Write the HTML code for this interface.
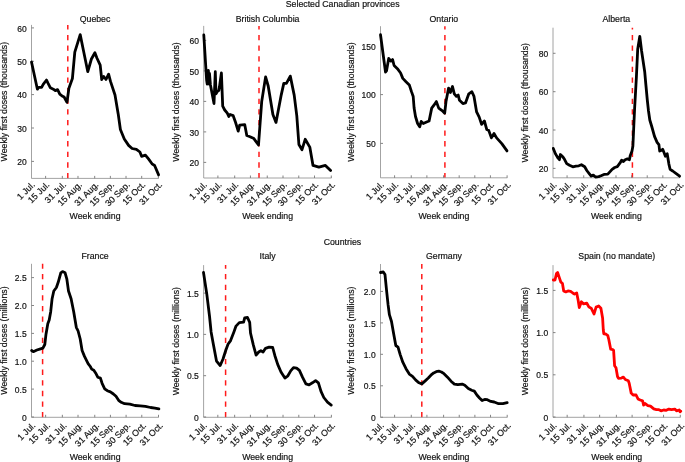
<!DOCTYPE html><html><head><meta charset="utf-8"><style>html,body{margin:0;padding:0;background:#fff;overflow:hidden;}svg{display:block;will-change:transform;}text{font-family:"Liberation Sans",sans-serif;fill:#111;stroke:#111;stroke-width:0.18px;}</style></head><body>
<svg width="685" height="462" viewBox="0 0 685 462">
<rect width="685" height="462" fill="#fff"/>
<text x="342.7" y="6.6" font-size="8.75" text-anchor="middle">Selected Canadian provinces</text>
<text x="342.4" y="244.7" font-size="8.75" text-anchor="middle">Countries</text>
<text x="95.05" y="22" font-size="8.75" text-anchor="middle">Quebec</text>
<line x1="67.8" y1="24.9" x2="67.8" y2="178.4" stroke="#ff1a1a" stroke-width="1.5" stroke-dasharray="5.3 5.32" stroke-dashoffset="0.6"/>
<path d="M31.5 24.9V178.4H158.6" fill="none" stroke="#8c8c8c" stroke-width="0.8"/>
<path d="M45.62 178.4v-2.5M62.33 178.4v-2.5M77.99 178.4v-2.5M94.7 178.4v-2.5M110.36 178.4v-2.5M126.03 178.4v-2.5M141.69 178.4v-2.5M158.4 178.4v-2.5M31.5 27.9h2.5M31.5 61.3h2.5M31.5 94.6h2.5M31.5 128h2.5M31.5 161.4h2.5" fill="none" stroke="#777" stroke-width="0.9"/>
<text x="26.7" y="31.5" font-size="8.5" text-anchor="end">60</text>
<text x="26.7" y="64.9" font-size="8.5" text-anchor="end">50</text>
<text x="26.7" y="98.2" font-size="8.5" text-anchor="end">40</text>
<text x="26.7" y="131.6" font-size="8.5" text-anchor="end">30</text>
<text x="26.7" y="165" font-size="8.5" text-anchor="end">20</text>
<text x="35.4" y="185.3" font-size="8.85" text-anchor="end" transform="rotate(-45 35.4 185.3)">1 Jul.</text>
<text x="50.02" y="185.3" font-size="8.85" text-anchor="end" transform="rotate(-45 50.02 185.3)">15 Jul.</text>
<text x="66.73" y="185.3" font-size="8.85" text-anchor="end" transform="rotate(-45 66.73 185.3)">31 Jul.</text>
<text x="82.39" y="185.3" font-size="8.85" text-anchor="end" transform="rotate(-45 82.39 185.3)">15 Aug.</text>
<text x="99.1" y="185.3" font-size="8.85" text-anchor="end" transform="rotate(-45 99.1 185.3)">31 Aug.</text>
<text x="114.76" y="185.3" font-size="8.85" text-anchor="end" transform="rotate(-45 114.76 185.3)">15 Sep.</text>
<text x="130.43" y="185.3" font-size="8.85" text-anchor="end" transform="rotate(-45 130.43 185.3)">30 Sep.</text>
<text x="146.09" y="185.3" font-size="8.85" text-anchor="end" transform="rotate(-45 146.09 185.3)">15 Oct.</text>
<text x="162.8" y="185.3" font-size="8.85" text-anchor="end" transform="rotate(-45 162.8 185.3)">31 Oct.</text>
<text x="95.05" y="219" font-size="8.75" text-anchor="middle">Week ending</text>
<text x="6.8" y="101.65" font-size="8.75" text-anchor="middle" transform="rotate(-90 6.8 101.65)">Weekly first doses (thousands)</text>
<path d="M31.5 62 L37.4 89.2 L38.7 87.3 L41.6 87.3 L43.2 84.3 L46.5 80 L48.1 83.4 L50.4 87.8 L53.3 89.2 L55.3 90.6 L57.6 89.6 L59.8 94.1 L62.1 96 L64.1 97 L67 102.3 L68.9 88.2 L72.4 78.5 L74.8 52.2 L80.2 34.6 L83.6 51.2 L87.8 71.7 L91.4 59 L94.9 52.7 L96.9 58 L100.2 65.2 L101.7 79.5 L103.7 76.5 L106 79.5 L108.6 74.2 L110.5 81.4 L115 95 L118.2 113.9 L120.4 129.5 L124.3 139 L128.6 145.4 L132.1 148.5 L136.4 149.4 L139.9 152 L141.6 156.3 L145.4 155.1 L148.5 158.9 L152 163.8 L154.6 165.5 L158.6 174.9" fill="none" stroke="#000" stroke-width="2.8" stroke-linejoin="round" stroke-linecap="round"/>
<text x="267.6" y="22" font-size="8.75" text-anchor="middle">British Columbia</text>
<line x1="259" y1="25.9" x2="259" y2="178" stroke="#ff1a1a" stroke-width="1.5" stroke-dasharray="5.3 5.32" stroke-dashoffset="1.6"/>
<path d="M203.7 25.9V178H331.5" fill="none" stroke="#8c8c8c" stroke-width="0.8"/>
<path d="M217.9 178v-2.5M234.7 178v-2.5M250.45 178v-2.5M267.25 178v-2.5M283 178v-2.5M298.75 178v-2.5M314.5 178v-2.5M331.3 178v-2.5M203.7 40.4h2.5M203.7 70.9h2.5M203.7 101.4h2.5M203.7 131.9h2.5M203.7 162.4h2.5" fill="none" stroke="#777" stroke-width="0.9"/>
<text x="198.9" y="44" font-size="8.5" text-anchor="end">60</text>
<text x="198.9" y="74.5" font-size="8.5" text-anchor="end">50</text>
<text x="198.9" y="105" font-size="8.5" text-anchor="end">40</text>
<text x="198.9" y="135.5" font-size="8.5" text-anchor="end">30</text>
<text x="198.9" y="166" font-size="8.5" text-anchor="end">20</text>
<text x="207.6" y="185.3" font-size="8.85" text-anchor="end" transform="rotate(-45 207.6 185.3)">1 Jul.</text>
<text x="222.3" y="185.3" font-size="8.85" text-anchor="end" transform="rotate(-45 222.3 185.3)">15 Jul.</text>
<text x="239.1" y="185.3" font-size="8.85" text-anchor="end" transform="rotate(-45 239.1 185.3)">31 Jul.</text>
<text x="254.85" y="185.3" font-size="8.85" text-anchor="end" transform="rotate(-45 254.85 185.3)">15 Aug.</text>
<text x="271.65" y="185.3" font-size="8.85" text-anchor="end" transform="rotate(-45 271.65 185.3)">31 Aug.</text>
<text x="287.4" y="185.3" font-size="8.85" text-anchor="end" transform="rotate(-45 287.4 185.3)">15 Sep.</text>
<text x="303.15" y="185.3" font-size="8.85" text-anchor="end" transform="rotate(-45 303.15 185.3)">30 Sep.</text>
<text x="318.9" y="185.3" font-size="8.85" text-anchor="end" transform="rotate(-45 318.9 185.3)">15 Oct.</text>
<text x="335.7" y="185.3" font-size="8.85" text-anchor="end" transform="rotate(-45 335.7 185.3)">31 Oct.</text>
<text x="267.6" y="219" font-size="8.75" text-anchor="middle">Week ending</text>
<text x="179.1" y="101.95" font-size="8.75" text-anchor="middle" transform="rotate(-90 179.1 101.95)">Weekly first doses (thousands)</text>
<path d="M203.8 35 L206.6 80 L207.2 84 L208.4 70.5 L209 84 L209.5 73.5 L210.4 84.7 L214 103.5 L215.3 71.7 L216 93.8 L217.5 91.2 L218.8 90.5 L219.5 86.6 L221.4 73 L222.7 106.1 L224.7 110 L227.3 113.2 L228.8 116.5 L230.1 114.5 L233.1 115.6 L235.6 122.5 L238.2 131.1 L239.7 125.1 L244.7 124.6 L246.8 135.5 L250 136.7 L253.9 138.6 L258.5 145 L261.7 101.6 L265.6 76.9 L268.2 86 L272.9 114.6 L276 122.4 L281.2 95.1 L283.8 83.4 L286.4 83.4 L290.3 76.1 L294.2 95.1 L296.8 115.9 L298.9 144.5 L302 149.7 L305.2 139.3 L309.8 147.1 L313 165.4 L318.9 167.2 L325.4 165.4 L328 168 L330.6 170.6" fill="none" stroke="#000" stroke-width="2.8" stroke-linejoin="round" stroke-linecap="round"/>
<text x="443.9" y="22" font-size="8.75" text-anchor="middle">Ontario</text>
<line x1="444.9" y1="26.2" x2="444.9" y2="177.8" stroke="#ff1a1a" stroke-width="1.5" stroke-dasharray="5.3 5.32" stroke-dashoffset="1.9"/>
<path d="M380.5 26.2V177.8H507.3" fill="none" stroke="#8c8c8c" stroke-width="0.8"/>
<path d="M394.59 177.8v-2.5M411.25 177.8v-2.5M426.88 177.8v-2.5M443.55 177.8v-2.5M459.18 177.8v-2.5M474.8 177.8v-2.5M490.43 177.8v-2.5M507.1 177.8v-2.5M380.5 45.9h2.5M380.5 94.6h2.5M380.5 143.4h2.5" fill="none" stroke="#777" stroke-width="0.9"/>
<text x="375.7" y="49.5" font-size="8.5" text-anchor="end">150</text>
<text x="375.7" y="98.2" font-size="8.5" text-anchor="end">100</text>
<text x="375.7" y="147" font-size="8.5" text-anchor="end">50</text>
<text x="384.4" y="185.3" font-size="8.85" text-anchor="end" transform="rotate(-45 384.4 185.3)">1 Jul.</text>
<text x="398.99" y="185.3" font-size="8.85" text-anchor="end" transform="rotate(-45 398.99 185.3)">15 Jul.</text>
<text x="415.65" y="185.3" font-size="8.85" text-anchor="end" transform="rotate(-45 415.65 185.3)">31 Jul.</text>
<text x="431.28" y="185.3" font-size="8.85" text-anchor="end" transform="rotate(-45 431.28 185.3)">15 Aug.</text>
<text x="447.95" y="185.3" font-size="8.85" text-anchor="end" transform="rotate(-45 447.95 185.3)">31 Aug.</text>
<text x="463.58" y="185.3" font-size="8.85" text-anchor="end" transform="rotate(-45 463.58 185.3)">15 Sep.</text>
<text x="479.2" y="185.3" font-size="8.85" text-anchor="end" transform="rotate(-45 479.2 185.3)">30 Sep.</text>
<text x="494.83" y="185.3" font-size="8.85" text-anchor="end" transform="rotate(-45 494.83 185.3)">15 Oct.</text>
<text x="511.5" y="185.3" font-size="8.85" text-anchor="end" transform="rotate(-45 511.5 185.3)">31 Oct.</text>
<text x="443.9" y="219" font-size="8.75" text-anchor="middle">Week ending</text>
<text x="353.9" y="102" font-size="8.75" text-anchor="middle" transform="rotate(-90 353.9 102)">Weekly first doses (thousands)</text>
<path d="M380.5 34.7 L385.5 72 L386.5 70.9 L388.7 58.5 L390.9 61.1 L392.6 59.6 L394.1 65.5 L397.4 68.7 L400.6 73 L402.8 78.4 L406 81.7 L409.3 84.9 L411.4 91.4 L413.2 96.5 L414.1 108 L415.5 116.5 L417.6 123.5 L419.7 126.8 L421.2 121.4 L423.3 123.5 L426.6 122 L429.1 121 L431.7 108.1 L434.3 104.7 L436.4 101.6 L438.7 108.1 L442.1 110.6 L444.7 113.2 L446 101.6 L448.6 88.1 L450.4 92.5 L452.5 86.5 L454.3 93.8 L456.4 96.4 L458.2 95.1 L459.5 100.3 L462.9 103.6 L465.5 102.9 L468.8 93.8 L471.9 91.7 L474 96.4 L476.6 111.9 L479.2 117.1 L481.6 124.4 L484.4 121 L486.8 129.6 L488.8 130.6 L491.4 137.9 L494 133.5 L496.6 137.9 L501.8 143.6 L507 150.9" fill="none" stroke="#000" stroke-width="2.8" stroke-linejoin="round" stroke-linecap="round"/>
<text x="616.35" y="22" font-size="8.75" text-anchor="middle">Alberta</text>
<line x1="632.4" y1="27.7" x2="632.4" y2="177.8" stroke="#ff1a1a" stroke-width="1.5" stroke-dasharray="5.3 5.32" stroke-dashoffset="3.4"/>
<path d="M553 27.7V177.8H679.7" fill="none" stroke="#8c8c8c" stroke-width="0.8"/>
<path d="M567.07 177.8v-2.5M583.73 177.8v-2.5M599.34 177.8v-2.5M616 177.8v-2.5M631.61 177.8v-2.5M647.23 177.8v-2.5M662.84 177.8v-2.5M679.5 177.8v-2.5M553 53.3h2.5M553 91.7h2.5M553 130h2.5M553 168.4h2.5" fill="none" stroke="#777" stroke-width="0.9"/>
<text x="548.2" y="56.9" font-size="8.5" text-anchor="end">80</text>
<text x="548.2" y="95.3" font-size="8.5" text-anchor="end">60</text>
<text x="548.2" y="133.6" font-size="8.5" text-anchor="end">40</text>
<text x="548.2" y="172" font-size="8.5" text-anchor="end">20</text>
<text x="557.3" y="185.3" font-size="8.85" text-anchor="end" transform="rotate(-45 557.3 185.3)">1 Jul.</text>
<text x="571.87" y="185.3" font-size="8.85" text-anchor="end" transform="rotate(-45 571.87 185.3)">15 Jul.</text>
<text x="588.53" y="185.3" font-size="8.85" text-anchor="end" transform="rotate(-45 588.53 185.3)">31 Jul.</text>
<text x="604.14" y="185.3" font-size="8.85" text-anchor="end" transform="rotate(-45 604.14 185.3)">15 Aug.</text>
<text x="620.8" y="185.3" font-size="8.85" text-anchor="end" transform="rotate(-45 620.8 185.3)">31 Aug.</text>
<text x="636.41" y="185.3" font-size="8.85" text-anchor="end" transform="rotate(-45 636.41 185.3)">15 Sep.</text>
<text x="652.03" y="185.3" font-size="8.85" text-anchor="end" transform="rotate(-45 652.03 185.3)">30 Sep.</text>
<text x="667.64" y="185.3" font-size="8.85" text-anchor="end" transform="rotate(-45 667.64 185.3)">15 Oct.</text>
<text x="684.3" y="185.3" font-size="8.85" text-anchor="end" transform="rotate(-45 684.3 185.3)">31 Oct.</text>
<text x="616.35" y="219" font-size="8.75" text-anchor="middle">Week ending</text>
<text x="528" y="102.75" font-size="8.75" text-anchor="middle" transform="rotate(-90 528 102.75)">Weekly first doses (thousands)</text>
<path d="M553.3 148.4 L555.5 153.9 L558.1 158.2 L559.4 159.7 L560.4 154.5 L563 157.1 L564.5 159.3 L566.7 163.6 L569.5 165.3 L572.8 166.8 L576 166.2 L578.8 165.8 L581.4 164.7 L584.7 166.8 L586.8 170.5 L589 173.3 L591.2 176.1 L593.3 175.1 L595.5 177 L598.7 176.6 L601 175.8 L604 174.4 L607.8 174.2 L612.1 169.3 L614.7 167.5 L617.3 166.7 L619.9 163.2 L621.6 160.2 L623.4 161.5 L625.1 159.7 L627.4 158.9 L629.4 159.7 L630.3 155.4 L632 151.1 L632.9 145.9 L633.8 126 L634.6 108.7 L636.4 77 L637.7 49.2 L639.8 36.3 L641.6 51 L644.7 71.7 L645.9 85 L647.3 100 L648.5 111 L649.8 120 L651.9 127 L654.5 136.4 L657.1 142.4 L658.9 144.7 L659.7 151.1 L661.5 150.2 L662.7 149.3 L664.1 152.8 L665.4 156.3 L667.2 153.7 L668.9 164.1 L670.1 169.3 L672.7 171 L676.2 173.6 L679.6 176.2" fill="none" stroke="#000" stroke-width="2.8" stroke-linejoin="round" stroke-linecap="round"/>
<text x="95.1" y="259.4" font-size="8.75" text-anchor="middle">France</text>
<line x1="42.6" y1="263.8" x2="42.6" y2="417.3" stroke="#ff1a1a" stroke-width="1.5" stroke-dasharray="5.3 5.32" stroke-dashoffset="0.4"/>
<path d="M31.5 263.8V417.3H158.7" fill="none" stroke="#8c8c8c" stroke-width="0.8"/>
<path d="M45.63 417.3v-2.5M62.35 417.3v-2.5M78.03 417.3v-2.5M94.75 417.3v-2.5M110.43 417.3v-2.5M126.1 417.3v-2.5M141.78 417.3v-2.5M158.5 417.3v-2.5M31.5 417h2.5M31.5 389.1h2.5M31.5 361.2h2.5M31.5 333.4h2.5M31.5 305.5h2.5M31.5 277.6h2.5" fill="none" stroke="#777" stroke-width="0.9"/>
<text x="26.7" y="420.6" font-size="8.5" text-anchor="end">0</text>
<text x="26.7" y="392.7" font-size="8.5" text-anchor="end">0.5</text>
<text x="26.7" y="364.8" font-size="8.5" text-anchor="end">1.0</text>
<text x="26.7" y="337" font-size="8.5" text-anchor="end">1.5</text>
<text x="26.7" y="309.1" font-size="8.5" text-anchor="end">2.0</text>
<text x="26.7" y="281.2" font-size="8.5" text-anchor="end">2.5</text>
<text x="36" y="426" font-size="8.85" text-anchor="end" transform="rotate(-45 36 426)">1 Jul.</text>
<text x="50.63" y="426" font-size="8.85" text-anchor="end" transform="rotate(-45 50.63 426)">15 Jul.</text>
<text x="67.35" y="426" font-size="8.85" text-anchor="end" transform="rotate(-45 67.35 426)">31 Jul.</text>
<text x="83.03" y="426" font-size="8.85" text-anchor="end" transform="rotate(-45 83.03 426)">15 Aug.</text>
<text x="99.75" y="426" font-size="8.85" text-anchor="end" transform="rotate(-45 99.75 426)">31 Aug.</text>
<text x="115.43" y="426" font-size="8.85" text-anchor="end" transform="rotate(-45 115.43 426)">15 Sep.</text>
<text x="131.1" y="426" font-size="8.85" text-anchor="end" transform="rotate(-45 131.1 426)">30 Sep.</text>
<text x="146.78" y="426" font-size="8.85" text-anchor="end" transform="rotate(-45 146.78 426)">15 Oct.</text>
<text x="163.5" y="426" font-size="8.85" text-anchor="end" transform="rotate(-45 163.5 426)">31 Oct.</text>
<text x="95.1" y="460" font-size="8.75" text-anchor="middle">Week ending</text>
<text x="7.1" y="340.55" font-size="8.75" text-anchor="middle" transform="rotate(-90 7.1 340.55)">Weekly first doses (millions)</text>
<path d="M31.6 350.5 L33.3 351.7 L36.9 350 L40.5 348.8 L42.9 348.1 L44.8 344.5 L46 334.2 L47.8 323.8 L49.2 320 L50.7 311.7 L52.1 298.7 L53.8 291 L56.4 287.5 L58.2 282.3 L60.8 272.8 L62.5 271.6 L65.1 272.8 L66.8 278.8 L68.5 291 L71.1 298.7 L73.7 311.7 L76.3 327.3 L78.1 331 L80.2 339 L82.1 350.5 L84.5 356.4 L88.1 363.6 L90.3 366.5 L91.7 369.1 L93.8 370.3 L96.1 373.8 L97.8 377.2 L100.4 378.1 L102.1 383.3 L104.7 388.8 L107.3 390.7 L110.4 391.9 L113.4 394 L116 396.3 L118.6 400.3 L121.2 402.3 L124.6 403.7 L129.8 404.1 L135 405.5 L140.2 405.8 L145.4 406.3 L150.6 407.5 L154.9 408.1 L158.9 408.9" fill="none" stroke="#000" stroke-width="2.8" stroke-linejoin="round" stroke-linecap="round"/>
<text x="267.6" y="259.4" font-size="8.75" text-anchor="middle">Italy</text>
<line x1="225.6" y1="265.1" x2="225.6" y2="417.3" stroke="#ff1a1a" stroke-width="1.5" stroke-dasharray="5.3 5.32" stroke-dashoffset="1.7"/>
<path d="M203.6 265.1V417.3H331.6" fill="none" stroke="#8c8c8c" stroke-width="0.8"/>
<path d="M217.82 417.3v-2.5M234.65 417.3v-2.5M250.42 417.3v-2.5M267.25 417.3v-2.5M283.02 417.3v-2.5M298.8 417.3v-2.5M314.57 417.3v-2.5M331.4 417.3v-2.5M203.6 417h2.5M203.6 375.7h2.5M203.6 334.4h2.5M203.6 293.1h2.5" fill="none" stroke="#777" stroke-width="0.9"/>
<text x="198.8" y="420.6" font-size="8.5" text-anchor="end">0</text>
<text x="198.8" y="379.3" font-size="8.5" text-anchor="end">0.5</text>
<text x="198.8" y="338" font-size="8.5" text-anchor="end">1.0</text>
<text x="198.8" y="296.7" font-size="8.5" text-anchor="end">1.5</text>
<text x="207.5" y="426" font-size="8.85" text-anchor="end" transform="rotate(-45 207.5 426)">1 Jul.</text>
<text x="222.22" y="426" font-size="8.85" text-anchor="end" transform="rotate(-45 222.22 426)">15 Jul.</text>
<text x="239.05" y="426" font-size="8.85" text-anchor="end" transform="rotate(-45 239.05 426)">31 Jul.</text>
<text x="254.82" y="426" font-size="8.85" text-anchor="end" transform="rotate(-45 254.82 426)">15 Aug.</text>
<text x="271.65" y="426" font-size="8.85" text-anchor="end" transform="rotate(-45 271.65 426)">31 Aug.</text>
<text x="287.42" y="426" font-size="8.85" text-anchor="end" transform="rotate(-45 287.42 426)">15 Sep.</text>
<text x="303.2" y="426" font-size="8.85" text-anchor="end" transform="rotate(-45 303.2 426)">30 Sep.</text>
<text x="318.97" y="426" font-size="8.85" text-anchor="end" transform="rotate(-45 318.97 426)">15 Oct.</text>
<text x="335.8" y="426" font-size="8.85" text-anchor="end" transform="rotate(-45 335.8 426)">31 Oct.</text>
<text x="267.6" y="460" font-size="8.75" text-anchor="middle">Week ending</text>
<text x="179.1" y="341.2" font-size="8.75" text-anchor="middle" transform="rotate(-90 179.1 341.2)">Weekly first doses (millions)</text>
<path d="M203.5 272.5 L206.8 294.1 L209.5 316 L211.1 331.9 L213.3 344 L216.5 361.1 L220.2 365.5 L223 359 L225.8 350.3 L228 344.2 L230.6 340.6 L233.9 331.9 L236 326.1 L239.3 322.6 L243.6 322.2 L244.7 317.9 L247.5 317.5 L249.7 322.3 L250.5 333 L253.3 344.9 L256.1 355.1 L258.7 352 L260.9 350.7 L263.1 352 L265.5 348.3 L269.1 347.1 L272.7 347.5 L274.9 355.7 L277.7 364.4 L281 372 L284.9 378 L287.9 375.8 L290.7 370.9 L293.5 367.6 L296.6 368.1 L299.4 370.4 L302.6 377.4 L305.9 383.9 L309.1 384.9 L312.4 382.8 L315.6 380.6 L318.4 382.8 L321 391.4 L323.8 397.5 L327.5 402.2 L331.2 405.1" fill="none" stroke="#000" stroke-width="2.8" stroke-linejoin="round" stroke-linecap="round"/>
<text x="443.95" y="259.4" font-size="8.75" text-anchor="middle">Germany</text>
<line x1="421.8" y1="264" x2="421.8" y2="417.3" stroke="#ff1a1a" stroke-width="1.5" stroke-dasharray="5.3 5.32" stroke-dashoffset="0.6"/>
<path d="M380.5 264V417.3H507.4" fill="none" stroke="#8c8c8c" stroke-width="0.8"/>
<path d="M394.6 417.3v-2.5M411.28 417.3v-2.5M426.92 417.3v-2.5M443.6 417.3v-2.5M459.24 417.3v-2.5M474.88 417.3v-2.5M490.52 417.3v-2.5M507.2 417.3v-2.5M380.5 417.2h2.5M380.5 385.8h2.5M380.5 354.3h2.5M380.5 322.9h2.5M380.5 291.4h2.5" fill="none" stroke="#777" stroke-width="0.9"/>
<text x="375.7" y="420.8" font-size="8.5" text-anchor="end">0</text>
<text x="375.7" y="389.4" font-size="8.5" text-anchor="end">0.5</text>
<text x="375.7" y="357.9" font-size="8.5" text-anchor="end">1.0</text>
<text x="375.7" y="326.5" font-size="8.5" text-anchor="end">1.5</text>
<text x="375.7" y="295" font-size="8.5" text-anchor="end">2.0</text>
<text x="384.4" y="426" font-size="8.85" text-anchor="end" transform="rotate(-45 384.4 426)">1 Jul.</text>
<text x="399" y="426" font-size="8.85" text-anchor="end" transform="rotate(-45 399 426)">15 Jul.</text>
<text x="415.68" y="426" font-size="8.85" text-anchor="end" transform="rotate(-45 415.68 426)">31 Jul.</text>
<text x="431.32" y="426" font-size="8.85" text-anchor="end" transform="rotate(-45 431.32 426)">15 Aug.</text>
<text x="448" y="426" font-size="8.85" text-anchor="end" transform="rotate(-45 448 426)">31 Aug.</text>
<text x="463.64" y="426" font-size="8.85" text-anchor="end" transform="rotate(-45 463.64 426)">15 Sep.</text>
<text x="479.28" y="426" font-size="8.85" text-anchor="end" transform="rotate(-45 479.28 426)">30 Sep.</text>
<text x="494.92" y="426" font-size="8.85" text-anchor="end" transform="rotate(-45 494.92 426)">15 Oct.</text>
<text x="511.6" y="426" font-size="8.85" text-anchor="end" transform="rotate(-45 511.6 426)">31 Oct.</text>
<text x="443.95" y="460" font-size="8.75" text-anchor="middle">Week ending</text>
<text x="354.4" y="340.65" font-size="8.75" text-anchor="middle" transform="rotate(-90 354.4 340.65)">Weekly first doses (millions)</text>
<path d="M380.5 272.5 L383.3 272 L385 274.6 L386.5 289.8 L388.1 304.9 L389.4 314.7 L391.5 321.5 L393.7 334 L395.8 345.5 L398 347.1 L400.2 354.6 L402.8 362.2 L406 368.7 L409.3 374.1 L412.5 376.3 L415.8 380.2 L419 382.8 L421.8 383.9 L425.5 380.6 L428.3 378 L430.9 375.2 L433.7 372.9 L436.2 371.7 L438.8 371.2 L441.4 372 L444 373.7 L447.5 377.2 L451 381.2 L454.4 384.1 L457.9 384.7 L462.2 384.1 L464.8 385.3 L468.3 388.5 L471.7 390.2 L474.3 391.1 L476.9 395 L479.5 398 L482.1 400.6 L484.7 399.4 L487.3 399.7 L490.8 401.4 L494.2 402 L498.6 403.7 L502.9 403.7 L507.2 402.7" fill="none" stroke="#000" stroke-width="2.8" stroke-linejoin="round" stroke-linecap="round"/>
<text x="616.75" y="259.4" font-size="8.75" text-anchor="middle">Spain (no mandate)</text>
<path d="M553 265.1V417.3H680.5" fill="none" stroke="#8c8c8c" stroke-width="0.8"/>
<path d="M567.17 417.3v-2.5M583.93 417.3v-2.5M599.64 417.3v-2.5M616.4 417.3v-2.5M632.11 417.3v-2.5M647.83 417.3v-2.5M663.54 417.3v-2.5M680.3 417.3v-2.5M553 417h2.5M553 374.8h2.5M553 332.6h2.5M553 290.4h2.5" fill="none" stroke="#777" stroke-width="0.9"/>
<text x="548.2" y="420.6" font-size="8.5" text-anchor="end">0</text>
<text x="548.2" y="378.4" font-size="8.5" text-anchor="end">0.5</text>
<text x="548.2" y="336.2" font-size="8.5" text-anchor="end">1.0</text>
<text x="548.2" y="294" font-size="8.5" text-anchor="end">1.5</text>
<text x="557.3" y="426" font-size="8.85" text-anchor="end" transform="rotate(-45 557.3 426)">1 Jul.</text>
<text x="571.97" y="426" font-size="8.85" text-anchor="end" transform="rotate(-45 571.97 426)">15 Jul.</text>
<text x="588.73" y="426" font-size="8.85" text-anchor="end" transform="rotate(-45 588.73 426)">31 Jul.</text>
<text x="604.44" y="426" font-size="8.85" text-anchor="end" transform="rotate(-45 604.44 426)">15 Aug.</text>
<text x="621.2" y="426" font-size="8.85" text-anchor="end" transform="rotate(-45 621.2 426)">31 Aug.</text>
<text x="636.91" y="426" font-size="8.85" text-anchor="end" transform="rotate(-45 636.91 426)">15 Sep.</text>
<text x="652.63" y="426" font-size="8.85" text-anchor="end" transform="rotate(-45 652.63 426)">30 Sep.</text>
<text x="668.34" y="426" font-size="8.85" text-anchor="end" transform="rotate(-45 668.34 426)">15 Oct.</text>
<text x="685.1" y="426" font-size="8.85" text-anchor="end" transform="rotate(-45 685.1 426)">31 Oct.</text>
<text x="616.75" y="460" font-size="8.75" text-anchor="middle">Week ending</text>
<text x="528.5" y="341.2" font-size="8.75" text-anchor="middle" transform="rotate(-90 528.5 341.2)">Weekly first doses (millions)</text>
<path d="M553.3 280 L555 280 L556.5 273.5 L557.6 272.5 L559.4 277.9 L560.9 282.2 L562.4 283.3 L563.7 290.9 L565.8 291.9 L568 290.9 L570.6 291.3 L572.8 293 L574.5 294.1 L576.7 293 L578.2 300.6 L579.3 307.5 L581.4 301.7 L583.6 303.9 L586.8 303.2 L589 307.1 L591.2 308.2 L594 314 L596.1 307.1 L598.7 306 L600.9 308.2 L602.6 317.9 L603.3 330 L603.8 333.8 L605.8 334 L607.8 335.6 L608.8 339.5 L610.7 349.2 L612.7 349.6 L613.6 350.4 L614.6 365.8 L616 367.8 L617.5 376.5 L618.5 378.3 L621.4 378.1 L623.4 377.1 L625.3 379.5 L628.3 380.8 L629.2 383.3 L631.2 393.1 L633.1 395 L636.1 395 L638 398.9 L640.2 400 L642.6 400.8 L643.6 405.2 L644.9 403.5 L647.9 405.6 L650.5 406.1 L653.8 408.9 L656.4 409.6 L658.4 409.6 L661 410.8 L663.7 410 L666.3 410.3 L668.9 409.1 L671.5 409.6 L674.8 409.1 L676.5 410.8 L679.2 410 L680.1 411.8 L680.8 411.2" fill="none" stroke="#ff0000" stroke-width="2.8" stroke-linejoin="round" stroke-linecap="round"/>
</svg></body></html>
